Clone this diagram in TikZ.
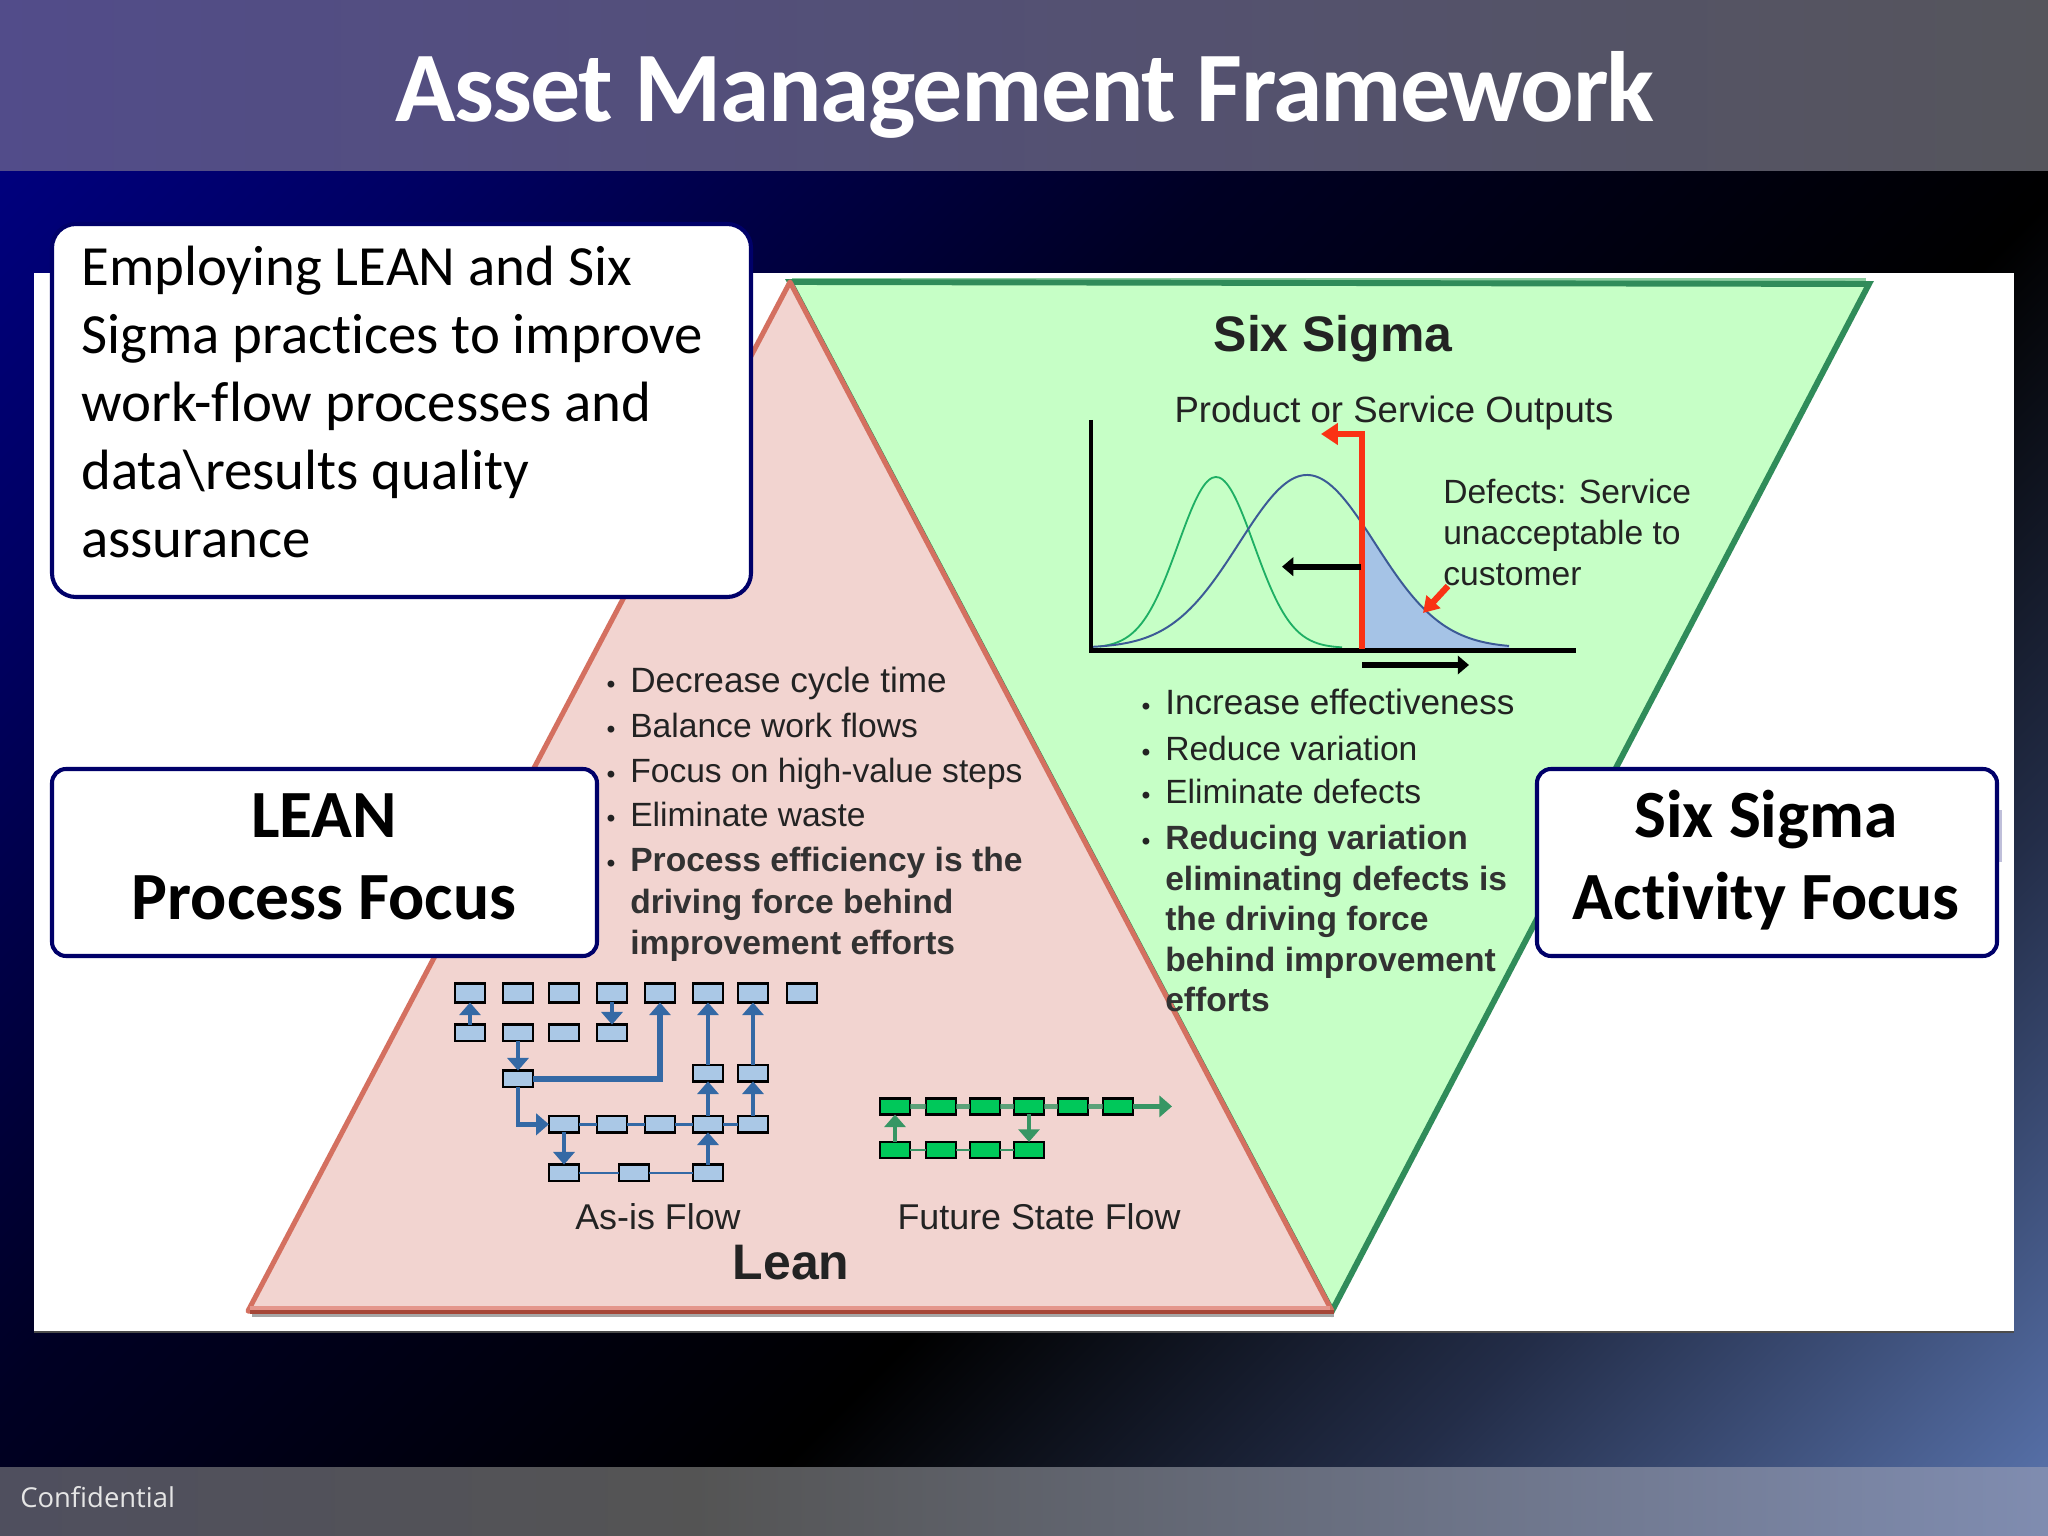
\documentclass[tikz,border=0pt]{standalone}
\usepackage{fontspec}
\setmainfont[Ligatures=NoCommon]{Carlito}
\newfontfamily\titlefont[Ligatures=NoCommon,LetterSpace=-1.5]{Carlito}
\newfontfamily\chartfont{Liberation Sans}
\newfontfamily\footfont{Open Sans}
\usetikzlibrary{arrows.meta}
\definecolor{titleL}{RGB}{82,76,138}
\definecolor{titleR}{RGB}{85,85,92}
\definecolor{navyline}{RGB}{0,0,105}
\definecolor{leanfill}{RGB}{242,212,208}
\definecolor{leanline}{RGB}{212,112,96}
\definecolor{leandark}{RGB}{165,70,55}
\definecolor{leanlight}{RGB}{228,150,140}
\definecolor{sigmafill}{RGB}{198,255,198}
\definecolor{sigmaline}{RGB}{48,140,90}
\definecolor{sigmalight}{RGB}{140,205,160}
\definecolor{flowblue}{RGB}{170,200,230}
\definecolor{flowline}{RGB}{52,105,165}
\definecolor{flowgreen}{RGB}{0,200,90}
\definecolor{flowgline}{RGB}{55,150,100}
\definecolor{redline}{RGB}{250,50,20}
\definecolor{curveblue}{RGB}{60,90,150}
\definecolor{curvegreen}{RGB}{30,175,100}
\definecolor{tailblue}{RGB}{165,195,230}
\definecolor{txt}{RGB}{35,35,35}
\definecolor{txtstrong}{RGB}{50,50,50}
\pgfdeclarehorizontalshading{bgshade}{100bp}{
  rgb(0bp)=(0,0,0.49);
  rgb(27.33bp)=(0,0,0.49);
  rgb(33.04bp)=(0,0,0.39);
  rgb(44.04bp)=(0,0,0.14);
  rgb(55.58bp)=(0,0,0);
  rgb(64.04bp)=(0.137,0.176,0.282);
  rgb(72.69bp)=(0.333,0.431,0.647);
  rgb(100bp)=(0.333,0.431,0.647)}
\pgfdeclarehorizontalshading{footshade}{100bp}{
  rgb(0bp)=(0.31,0.31,0.37);
  rgb(25bp)=(0.31,0.31,0.37);
  rgb(42bp)=(0.33,0.33,0.33);
  rgb(75bp)=(0.50,0.55,0.69);
  rgb(100bp)=(0.50,0.55,0.69)}
\tikzset{
  x=0.025cm,y=-0.025cm,
  callbox/.style={draw=navyline,line width=2.9pt,fill=white,rounded corners=17pt},
  smallbox/.style={draw=navyline,line width=2.9pt,fill=white,rounded corners=10pt},
  linetext/.style={anchor=base west,inner sep=0pt,font=\fontsize{40.4}{48}\selectfont,text=black},
  boxhead/.style={anchor=base,inner sep=0pt,font=\fontsize{48}{58}\selectfont\bfseries,text=black},
  chartlab/.style={anchor=base west,inner sep=0pt,font=\chartfont\fontsize{25}{30}\selectfont,text=txt},
  chartnarrow/.style={anchor=base west,inner sep=0pt,font=\chartfont\fontsize{23.9}{30}\selectfont,text=txt},
  chartstrong/.style={anchor=base west,inner sep=0pt,font=\chartfont\bfseries\fontsize{23.9}{30}\selectfont,text=txtstrong},
  chartbullet/.style={anchor=base,inner sep=0pt,font=\chartfont\bfseries\fontsize{17}{20}\selectfont,text=txt},
  chartcentre/.style={anchor=base,inner sep=0pt,font=\chartfont\fontsize{25.5}{30}\selectfont,text=txt},
  chartoutput/.style={anchor=base,inner sep=0pt,font=\chartfont\fontsize{26}{30}\selectfont,text=txt},
  charttitle/.style={anchor=base,inner sep=0pt,font=\chartfont\bfseries\fontsize{35.5}{44}\selectfont,text=txt},
  bluebox/.style={draw=black,line width=1.7pt,fill=flowblue,minimum width=21.5pt,minimum height=11.5pt,inner sep=0pt,outer sep=0pt},
  bluetop/.style={bluebox,minimum height=13.5pt},
  greenbox/.style={draw=black,line width=1.7pt,fill=flowgreen,minimum width=21pt,minimum height=11.5pt,inner sep=0pt,outer sep=0pt},
  thinblue/.style={draw=flowline,line width=1.7pt},
  blueflow/.style={draw=flowline,line width=3.4pt,-{Triangle[length=9pt,width=15pt]}},
  thinflowgreen/.style={draw=flowgline,line width=1.7pt},
  thickgreen/.style={draw=flowgline,line width=4pt,opacity=.8},
  greenflow/.style={draw=flowgline,line width=3.4pt,-{Triangle[length=9pt,width=15pt]}},
  redarrow/.style={draw=redline,line width=4.5pt},
  blackarrow/.style={draw=black,line width=4pt,-{Triangle[length=8pt,width=13pt]}},
}
\begin{document}
\begin{tikzpicture}
\useasboundingbox (0,0) rectangle (2048,1536);
% backdrop
\begin{scope}
\clip (0,0) rectangle (2048,1536);
\begin{scope}[transform canvas={rotate=-45}]
\shade[shading=bgshade] (0,-1700) rectangle (2600,1700);
\end{scope}
\end{scope}
\shade[left color=titleL,right color=titleR] (0,0) rectangle (2048,171);
\shade[shading=footshade] (0,1467) rectangle (2048,1536);
\fill[white] (34,273) rectangle (2014,1331);
\fill[black!70] (34,1331) rectangle (2014,1332.5);
% triangles
\coordinate (apex) at (790,282);
\coordinate (leanL) at (248,1311);
\coordinate (sharedB) at (1332,1311);
\coordinate (sigmaR) at (1869,284);
\draw[sigmalight,line width=2pt] (792,279.5) -- (1866,279.5);
\draw[fill=sigmafill,draw=sigmaline,line width=4.2pt,line join=miter] (apex) -- (sigmaR) -- (sharedB) -- cycle;
\draw[black!35,line width=2.5pt] (252,1315.5) -- (1334,1315.5);
\draw[fill=leanfill,draw=leanline,line width=3.6pt,line join=round] (apex) -- (sharedB) -- (leanL) -- cycle;
\draw[leanlight,line width=2.2pt] (250,1308) -- (1330,1308);
\draw[leandark,line width=3pt] (250,1312) -- (1334,1312);
% six sigma chart
\fill[tailblue] plot[domain=1362:1509,samples=50,smooth] (\x,{648-173*exp(-((\x-1307)/95.96)*((\x-1307)/95.96))}) -- (1509,650) -- (1362,650) -- cycle;
\draw[curvegreen,line width=1.3pt] plot[domain=1100:1342,samples=70,smooth] (\x,{648-171*exp(-((\x-1216)/53.5)*((\x-1216)/53.5))});
\draw[curveblue,line width=1.4pt] plot[domain=1092:1509,samples=90,smooth] (\x,{648-173*exp(-((\x-1307)/95.96)*((\x-1307)/95.96))});
\coordinate (axisTop) at (1091,420);
\coordinate (axisO) at (1091,650.5);
\coordinate (axisEnd) at (1576,650.5);
\draw[black,line width=3.2pt] (axisTop) -- (axisO) -- (axisEnd);
\coordinate (redBase) at (1362,649);
\coordinate (redTop) at (1362,434);
\coordinate (redTip) at (1321,434);
\draw[redarrow,-{Triangle[length=12pt,width=15pt]}] (redBase) -- (redTop) -- (redTip);
\coordinate (shiftA) at (1361,566.7);
\coordinate (shiftB) at (1282,566.7);
\draw[blackarrow] (shiftA) -- (shiftB);
\coordinate (shiftC) at (1362,665);
\coordinate (shiftD) at (1469,665);
\draw[blackarrow] (shiftC) -- (shiftD);
\coordinate (defA) at (1448,586);
\coordinate (defB) at (1423,613);
\draw[redarrow,-{Triangle[length=11pt,width=13pt]}] (defA) -- (defB);
\node[charttitle] (sstitle) at (1333,352) {Six Sigma};
\node[chartoutput] (ssout) at (1394,423) {Product or Service Outputs};
\node[chartnarrow] (def1) at (1443,503.5) {Defects: Service};
\node[chartnarrow] (def2) at (1443,544.5) {unacceptable to};
\node[chartnarrow] (def3) at (1443,585) {customer};
% six sigma bullets
\node[chartbullet] (sb1) at (1146,714) {•};
\node[chartlab] (sl1) at (1165,714) {Increase effectiveness};
\node[chartbullet] (sb2) at (1146,760) {•};
\node[chartnarrow] (sl2) at (1165,760) {Reduce variation};
\node[chartbullet] (sb3) at (1146,803) {•};
\node[chartnarrow] (sl3) at (1165,803) {Eliminate defects};
\node[chartbullet] (sb4) at (1146,849) {•};
\node[chartstrong] (sl4) at (1165,849) {Reducing variation};
\node[chartstrong] (sl5) at (1165,890) {eliminating defects is};
\node[chartstrong] (sl6) at (1165,930) {the driving force};
\node[chartstrong] (sl7) at (1165,971) {behind improvement};
\node[chartstrong] (sl8) at (1165,1011) {efforts};
% lean bullets
\node[chartbullet] (lb1) at (611,692) {•};
\node[chartlab] (ll1) at (630,692) {Decrease cycle time};
\node[chartbullet] (lb2) at (611,737) {•};
\node[chartnarrow] (ll2) at (630,737) {Balance work flows};
\node[chartbullet] (lb3) at (611,782) {•};
\node[chartnarrow] (ll3) at (630,782) {Focus on high-value steps};
\node[chartbullet] (lb4) at (611,826) {•};
\node[chartnarrow] (ll4) at (630,826) {Eliminate waste};
\node[chartbullet] (lb5) at (611,871) {•};
\node[chartstrong] (ll5) at (630,871) {Process efficiency is the};
\node[chartstrong] (ll6) at (630,913) {driving force behind};
\node[chartstrong] (ll7) at (630,954) {improvement efforts};
% as-is flow
\node[bluetop] (r1a) at (470,993) {};
\node[bluetop] (r1b) at (518,993) {};
\node[bluetop] (r1c) at (564,993) {};
\node[bluetop] (r1d) at (612,993) {};
\node[bluetop] (r1e) at (660,993) {};
\node[bluetop] (r1f) at (708,993) {};
\node[bluetop] (r1g) at (753,993) {};
\node[bluetop] (r1h) at (802,993) {};
\node[bluebox] (r2a) at (470,1032.7) {};
\node[bluebox] (r2b) at (518,1032.7) {};
\node[bluebox] (r2c) at (564,1032.7) {};
\node[bluebox] (r2d) at (612,1032.7) {};
\node[bluebox] (r3l) at (518,1078.7) {};
\node[bluebox] (r3m) at (708,1073.3) {};
\node[bluebox] (r3n) at (753,1073.3) {};
\node[bluebox] (r4a) at (564,1124.3) {};
\node[bluebox] (r4b) at (612,1124.3) {};
\node[bluebox] (r4c) at (660,1124.3) {};
\node[bluebox] (r4d) at (708,1124.3) {};
\node[bluebox] (r4e) at (753,1124.3) {};
\node[bluebox] (r5a) at (564,1172.7) {};
\node[bluebox] (r5b) at (634,1172.7) {};
\node[bluebox] (r5c) at (708,1172.7) {};
\draw[thinblue] (r4a) -- (r4b) -- (r4c) -- (r4d) -- (r4e);
\draw[thinblue] (r5a) -- (r5b) -- (r5c);
\draw[blueflow] (r2a) -- (r1a);
\draw[blueflow] (r1d) -- (r2d);
\draw[blueflow] (r2b) -- (r3l);
\draw[blueflow,line width=4pt] (r3l) -| (r1e);
\draw[blueflow] (r3l) |- (r4a);
\draw[blueflow] (r3m) -- (r1f);
\draw[blueflow] (r3n) -- (r1g);
\draw[blueflow] (r4d) -- (r3m);
\draw[blueflow] (r4e) -- (r3n);
\draw[blueflow] (r5c) -- (r4d);
\draw[blueflow] (r4a) -- (r5a);
% future state flow
\node[greenbox] (g1a) at (895,1106.4) {};
\node[greenbox] (g1b) at (941,1106.4) {};
\node[greenbox] (g1c) at (985,1106.4) {};
\node[greenbox] (g1d) at (1029,1106.4) {};
\node[greenbox] (g1e) at (1073,1106.4) {};
\node[greenbox] (g1f) at (1118,1106.4) {};
\node[greenbox] (g2a) at (895,1150) {};
\node[greenbox] (g2b) at (941,1150) {};
\node[greenbox] (g2c) at (985,1150) {};
\node[greenbox] (g2d) at (1029,1150) {};
\coordinate (gend) at (1172,1106.4);
\draw[thickgreen] (g1a) -- (g1b);
\draw[thickgreen] (g1b) -- (g1c);
\draw[thickgreen] (g1c) -- (g1d);
\draw[thickgreen] (g1d) -- (g1e);
\draw[thickgreen] (g1e) -- (g1f);
\draw[greenflow] (g1f) -- (gend);
\draw[thinflowgreen] (g2a) -- (g2b) -- (g2c) -- (g2d);
\draw[greenflow] (g2a) -- (g1a);
\draw[greenflow] (g1d) -- (g2d);
\node[chartcentre] (asis) at (658,1229) {As-is Flow};
\node[chartcentre] (future) at (1039,1229) {Future State Flow};
\node[charttitle] (leanname) at (791,1279) {Lean};
% callouts
\draw[callbox] (52,224) rectangle (751,597);
\node[linetext] (c1) at (81,285.3) {Employing LEAN and Six};
\node[linetext] (c2) at (81,353.3) {Sigma practices to improve};
\node[linetext] (c3) at (81,421.3) {work-flow processes and};
\node[linetext] (c4) at (81,489.3) {data\textbackslash results quality};
\node[linetext] (c5) at (81,557.3) {assurance};
\draw[smallbox] (52,769) rectangle (597,956);
\node[boxhead] (lean1) at (324,837) {LEAN};
\node[boxhead] (lean2) at (324,919) {Process Focus};
\fill[navyline!25] (1997,810) rectangle (2002,862);
\draw[smallbox] (1537,769) rectangle (1997,956);
\node[boxhead] (six1) at (1766,837) {Six Sigma};
\node[boxhead] (six2) at (1766,919) {Activity Focus};
% title and footer
\node[anchor=base,inner sep=0pt,text=white,font=\titlefont\fontsize{71}{84}\selectfont\bfseries] (title) at (1025,122) {Asset Management Framework};
\node[anchor=base west,inner sep=0pt,text=white!90!black,font=\footfont\fontsize{19.5}{24}\selectfont] (conf) at (20,1507) {Confidential};
\end{tikzpicture}
\end{document}
